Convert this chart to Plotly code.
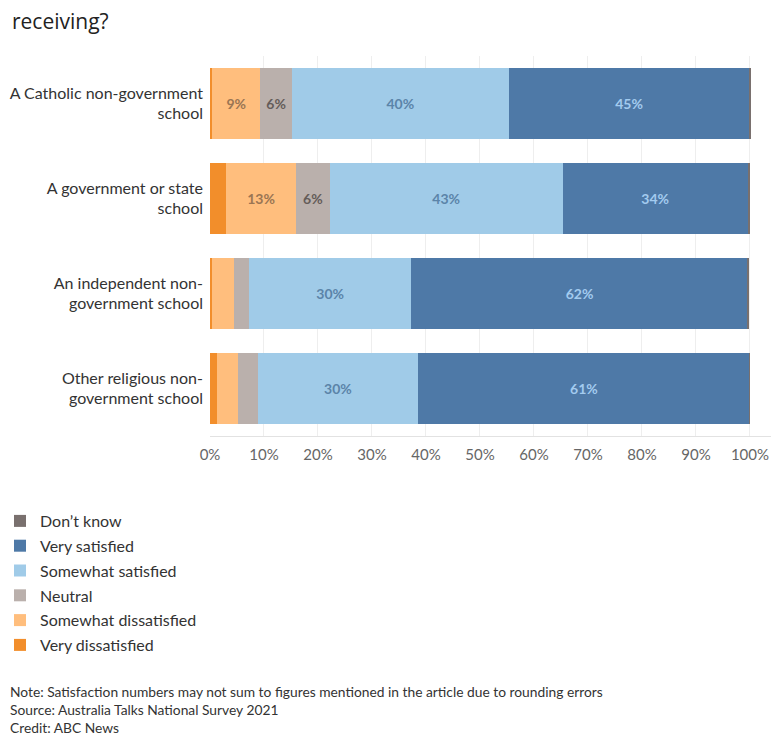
import plotly.graph_objects as go

categories = [
    "A Catholic non-government<br>school",
    "A government or state<br>school",
    "An independent non-<br>government school",
    "Other religious non-<br>government school",
]
very_dissatisfied = [0.4, 3.0, 0.4, 1.3]
somewhat_dissatisfied = [8.9, 12.9, 4.0, 3.9]
neutral = [5.9, 6.3, 2.8, 3.6]
somewhat_satisfied = [40.1, 43.1, 30.1, 29.8]
very_satisfied = [44.6, 34.3, 62.3, 61.3]
dont_know = [0.2, 0.4, 0.3, 0.1]

x_ticks = [0, 10, 20, 30, 40, 50, 60, 70, 80, 90, 100]
x_tick_labels = [f"{t}%" for t in x_ticks]

series = [
    ("Very dissatisfied", very_dissatisfied, "#f28e2b", "#8a5a2b"),
    ("Somewhat dissatisfied", somewhat_dissatisfied, "#ffbe7d", "#9a7553"),
    ("Neutral", neutral, "#bab0ac", "#645c59"),
    ("Somewhat satisfied", somewhat_satisfied, "#a0cbe8", "#5b84a8"),
    ("Very satisfied", very_satisfied, "#4e79a7", "#a3cbef"),
    ("Don\u2019t know", dont_know, "#79706e", "#ffffff"),
]

fig = go.Figure()
n = len(series)
for i, (name, vals, color, tcolor) in enumerate(series):
    labels = [f"{round(v)}%" if v >= 5 else "" for v in vals]
    fig.add_trace(go.Bar(
        y=categories, x=vals, name=name, orientation="h", legendgroup=name,
        legendrank=n - i,
        marker=dict(color=color, line=dict(width=0)),
        text=labels, textposition="inside", insidetextanchor="middle",
        textangle=0, constraintext="none",
        textfont=dict(family="Lato", size=14, color=tcolor, weight="bold"),
        hoverinfo="skip",
    ))

# The page body adds an 8px margin, so the figure is 8px smaller than the window
W, H = 771, 738
L, T, R, B = 202, 48, 8, 310
PW, PH = W - L - R, H - T - B  # plot area size in px
fig.update_layout(
    width=W, height=H,
    barmode="stack", bargap=0.25,
    plot_bgcolor="white", paper_bgcolor="white",
    margin=dict(l=L, r=R, t=T, b=B, autoexpand=False),
    font=dict(family="Lato", color="#333333"),
    title=dict(text="receiving?", xref="container", yref="container",
               x=4/W, xanchor="left", y=1-14/H, yanchor="middle",
               font=dict(family="Open Sans", size=21, color="#222222")),
    showlegend=True,
    legend=dict(traceorder="grouped", x=(-8-L)/PW, xanchor="left",
                y=-(496-(T+PH))/PH, yanchor="top", font=dict(size=16, color="#333333"),
                itemwidth=30, tracegroupgap=1, bgcolor="rgba(0,0,0,0)"),
    xaxis=dict(range=[0, 103.9], tickvals=x_ticks, ticktext=x_tick_labels,
               showgrid=True, gridcolor="#eeeeee", gridwidth=1,
               zeroline=False, showline=True, linecolor="#e2e2e2",
               tickfont=dict(size=15, color="#666666"), ticks="",
               ticklabelstandoff=5, fixedrange=True),
    yaxis=dict(autorange="reversed", showgrid=False, zeroline=False,
               tickfont=dict(size=16, color="#333333"), ticks="",
               ticklabelstandoff=6, fixedrange=True),
)

fig.add_annotation(
    text=("Note: Satisfaction numbers may not sum to figures mentioned in the article due to rounding errors"
          "<br>Source: Australia Talks National Survey 2021<br>Credit: ABC News"),
    xref="paper", yref="paper", x=(0-L)/PW, y=-(673-(T+PH))/PH,
    xanchor="left", yanchor="top", align="left", showarrow=False,
    font=dict(family="Lato", size=13.8, color="#333333"),
)

fig.write_html("out.html")
